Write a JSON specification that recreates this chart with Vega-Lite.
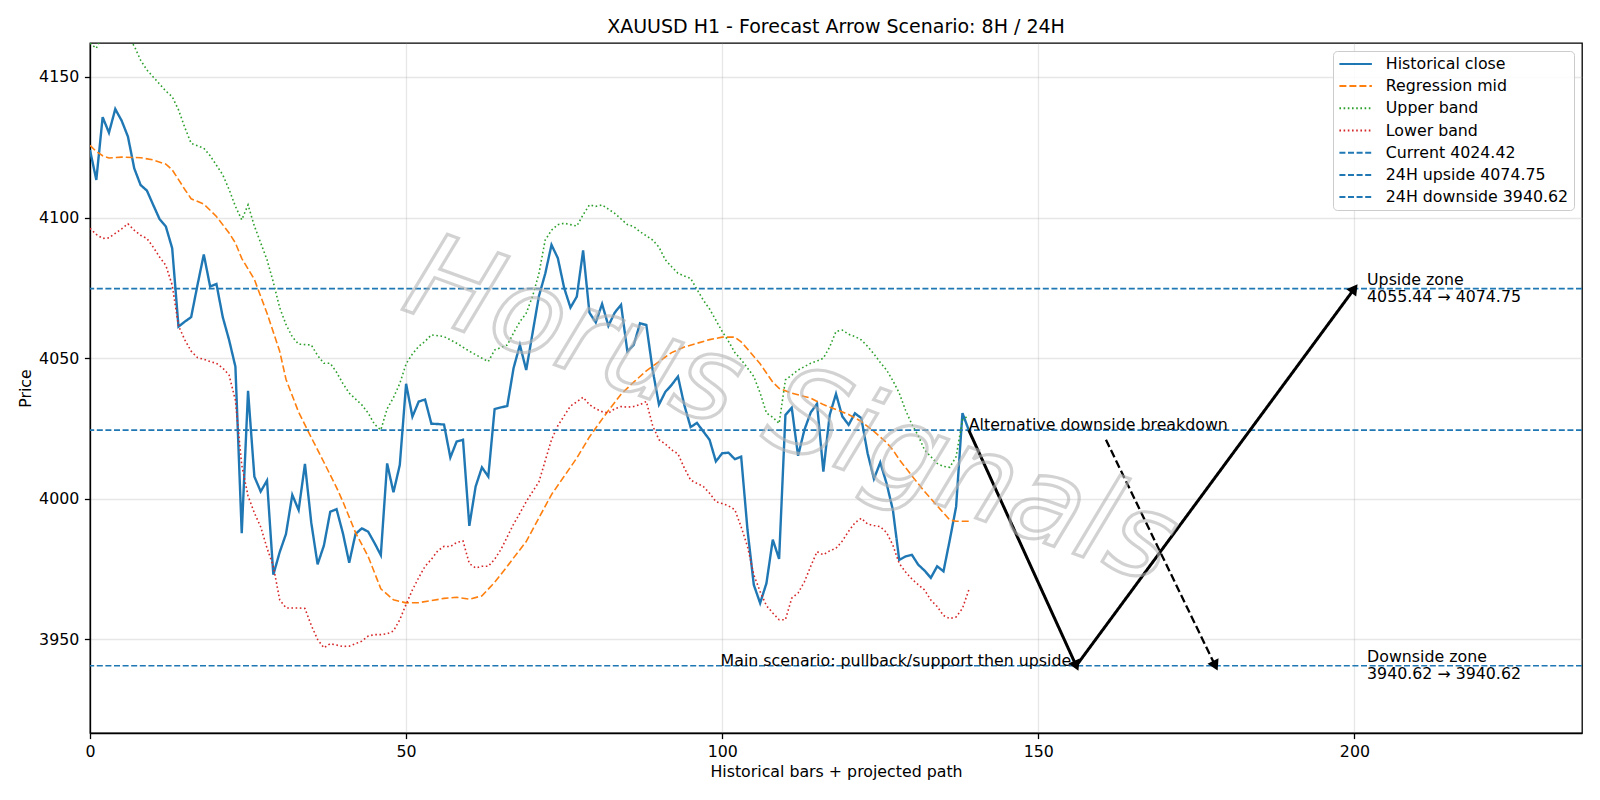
{
"$schema":"https://vega.github.io/schema/vega-lite/v6.json",
"width":1492,"height":690,
"autosize":{"type":"none"},
"padding":{"left":90,"top":43,"right":18,"bottom":67},
"background":"white",
"title":{"text":"XAUUSD H1 - Forecast Arrow Scenario: 8H / 24H","fontSize":19,"font":"DejaVu Sans","fontWeight":"normal","color":"black","anchor":"middle","offset":6},
"config":{
 "font":"DejaVu Sans",
 "view":{"stroke":"black","strokeWidth":1.3},
 "axis":{"domainColor":"black","domainWidth":1.3,"tickColor":"black","tickWidth":1.3,"tickSize":5.6,"labelFontSize":15.8,"labelColor":"black","labelFont":"DejaVu Sans","labelFlush":false,"labelOverlap":false,"titleFontSize":15.8,"titleFont":"DejaVu Sans","titleFontWeight":"normal","titleColor":"black","gridColor":"#b0b0b0","gridOpacity":0.3,"gridWidth":1.3,"labelPadding":5.6,"format":"d"},
 "axisX":{"titlePadding":5},
 "axisY":{"titlePadding":5}
},
"datasets":{
"lines":[
{"series":"Historical close","x":0,"value":4124.0},{"series":"Historical close","x":1,"value":4113.4},{"series":"Historical close","x":2,"value":4135.7},{"series":"Historical close","x":3,"value":4130.2},{"series":"Historical close","x":4,"value":4138.6},{"series":"Historical close","x":5,"value":4134.5},{"series":"Historical close","x":6,"value":4128.8},{"series":"Historical close","x":7,"value":4117.5},{"series":"Historical close","x":8,"value":4111.6},{"series":"Historical close","x":9,"value":4109.6},
{"series":"Historical close","x":10,"value":4104.5},{"series":"Historical close","x":11,"value":4099.5},{"series":"Historical close","x":12,"value":4096.8},{"series":"Historical close","x":13,"value":4089.1},{"series":"Historical close","x":14,"value":4061.2},{"series":"Historical close","x":15,"value":4063.0},{"series":"Historical close","x":16,"value":4064.6},{"series":"Historical close","x":17,"value":4076.0},{"series":"Historical close","x":18,"value":4086.9},{"series":"Historical close","x":19,"value":4075.5},
{"series":"Historical close","x":20,"value":4076.4},{"series":"Historical close","x":21,"value":4064.6},{"series":"Historical close","x":22,"value":4056.5},{"series":"Historical close","x":23,"value":4047.0},{"series":"Historical close","x":24,"value":3987.8},{"series":"Historical close","x":25,"value":4038.4},{"series":"Historical close","x":26,"value":4007.9},{"series":"Historical close","x":27,"value":4002.6},{"series":"Historical close","x":28,"value":4006.5},{"series":"Historical close","x":29,"value":3973.0},
{"series":"Historical close","x":30,"value":3981.0},{"series":"Historical close","x":31,"value":3987.5},{"series":"Historical close","x":32,"value":4001.4},{"series":"Historical close","x":33,"value":3996.0},{"series":"Historical close","x":34,"value":4012.4},{"series":"Historical close","x":35,"value":3991.5},{"series":"Historical close","x":36,"value":3976.7},{"series":"Historical close","x":37,"value":3983.4},{"series":"Historical close","x":38,"value":3995.4},{"series":"Historical close","x":39,"value":3996.3},
{"series":"Historical close","x":40,"value":3987.8},{"series":"Historical close","x":41,"value":3977.3},{"series":"Historical close","x":42,"value":3987.5},{"series":"Historical close","x":43,"value":3989.5},{"series":"Historical close","x":44,"value":3988.3},{"series":"Historical close","x":45,"value":3984.3},{"series":"Historical close","x":46,"value":3980.0},{"series":"Historical close","x":47,"value":4012.6},{"series":"Historical close","x":48,"value":4002.3},{"series":"Historical close","x":49,"value":4012.0},
{"series":"Historical close","x":50,"value":4040.9},{"series":"Historical close","x":51,"value":4029.2},{"series":"Historical close","x":52,"value":4034.6},{"series":"Historical close","x":53,"value":4035.3},{"series":"Historical close","x":54,"value":4026.7},{"series":"Historical close","x":55,"value":4026.6},{"series":"Historical close","x":56,"value":4026.4},{"series":"Historical close","x":57,"value":4014.7},{"series":"Historical close","x":58,"value":4020.4},{"series":"Historical close","x":59,"value":4021.0},
{"series":"Historical close","x":60,"value":3990.4},{"series":"Historical close","x":61,"value":4004.4},{"series":"Historical close","x":62,"value":4011.2},{"series":"Historical close","x":63,"value":4007.9},{"series":"Historical close","x":64,"value":4031.9},{"series":"Historical close","x":65,"value":4032.5},{"series":"Historical close","x":66,"value":4033.0},{"series":"Historical close","x":67,"value":4046.5},{"series":"Historical close","x":68,"value":4054.7},{"series":"Historical close","x":69,"value":4045.8},
{"series":"Historical close","x":70,"value":4058.9},{"series":"Historical close","x":71,"value":4072.0},{"series":"Historical close","x":72,"value":4080.0},{"series":"Historical close","x":73,"value":4090.3},{"series":"Historical close","x":74,"value":4085.6},{"series":"Historical close","x":75,"value":4075.0},{"series":"Historical close","x":76,"value":4068.0},{"series":"Historical close","x":77,"value":4071.9},{"series":"Historical close","x":78,"value":4088.3},{"series":"Historical close","x":79,"value":4066.2},
{"series":"Historical close","x":80,"value":4062.7},{"series":"Historical close","x":81,"value":4069.3},{"series":"Historical close","x":82,"value":4061.5},{"series":"Historical close","x":83,"value":4066.2},{"series":"Historical close","x":84,"value":4069.0},{"series":"Historical close","x":85,"value":4052.4},{"series":"Historical close","x":86,"value":4054.7},{"series":"Historical close","x":87,"value":4062.4},{"series":"Historical close","x":88,"value":4061.8},{"series":"Historical close","x":89,"value":4045.8},
{"series":"Historical close","x":90,"value":4033.5},{"series":"Historical close","x":91,"value":4038.0},{"series":"Historical close","x":92,"value":4040.5},{"series":"Historical close","x":93,"value":4043.5},{"series":"Historical close","x":94,"value":4033.4},{"series":"Historical close","x":95,"value":4025.5},{"series":"Historical close","x":96,"value":4027.0},{"series":"Historical close","x":97,"value":4024.0},{"series":"Historical close","x":98,"value":4021.0},{"series":"Historical close","x":99,"value":4013.3},
{"series":"Historical close","x":100,"value":4016.2},{"series":"Historical close","x":101,"value":4016.4},{"series":"Historical close","x":102,"value":4014.1},{"series":"Historical close","x":103,"value":4015.0},{"series":"Historical close","x":104,"value":3989.0},{"series":"Historical close","x":105,"value":3969.4},{"series":"Historical close","x":106,"value":3962.9},{"series":"Historical close","x":107,"value":3970.0},{"series":"Historical close","x":108,"value":3985.5},{"series":"Historical close","x":109,"value":3978.6},
{"series":"Historical close","x":110,"value":4029.8},{"series":"Historical close","x":111,"value":4032.4},{"series":"Historical close","x":112,"value":4015.3},{"series":"Historical close","x":113,"value":4024.5},{"series":"Historical close","x":114,"value":4030.7},{"series":"Historical close","x":115,"value":4033.8},{"series":"Historical close","x":116,"value":4009.7},{"series":"Historical close","x":117,"value":4029.8},{"series":"Historical close","x":118,"value":4037.3},{"series":"Historical close","x":119,"value":4029.3},
{"series":"Historical close","x":120,"value":4026.3},{"series":"Historical close","x":121,"value":4030.4},{"series":"Historical close","x":122,"value":4028.7},{"series":"Historical close","x":123,"value":4016.2},{"series":"Historical close","x":124,"value":4007.1},{"series":"Historical close","x":125,"value":4012.9},{"series":"Historical close","x":126,"value":4005.5},{"series":"Historical close","x":127,"value":3996.0},{"series":"Historical close","x":128,"value":3978.3},{"series":"Historical close","x":129,"value":3979.5},
{"series":"Historical close","x":130,"value":3980.1},{"series":"Historical close","x":131,"value":3976.6},{"series":"Historical close","x":132,"value":3974.5},{"series":"Historical close","x":133,"value":3971.9},{"series":"Historical close","x":134,"value":3976.0},{"series":"Historical close","x":135,"value":3974.2},{"series":"Historical close","x":136,"value":3985.4},{"series":"Historical close","x":137,"value":3997.2},{"series":"Historical close","x":138,"value":4030.5},{"series":"Historical close","x":139,"value":4024.42},
{"series":"Regression mid","x":0,"value":4125.7},{"series":"Regression mid","x":1,"value":4123.5},{"series":"Regression mid","x":2,"value":4122.0},{"series":"Regression mid","x":3,"value":4121.2},{"series":"Regression mid","x":5,"value":4121.5},{"series":"Regression mid","x":8,"value":4121.3},{"series":"Regression mid","x":10,"value":4120.5},{"series":"Regression mid","x":12,"value":4119.0},{"series":"Regression mid","x":13,"value":4117.0},{"series":"Regression mid","x":15,"value":4110.0},{"series":"Regression mid","x":16,"value":4106.7},{"series":"Regression mid","x":18,"value":4104.8},{"series":"Regression mid","x":20,"value":4100.4},{"series":"Regression mid","x":22,"value":4094.5},{"series":"Regression mid","x":23,"value":4091.0},{"series":"Regression mid","x":24,"value":4085.5},{"series":"Regression mid","x":26,"value":4078.0},{"series":"Regression mid","x":28,"value":4066.0},{"series":"Regression mid","x":30,"value":4052.5},{"series":"Regression mid","x":31,"value":4042.5},{"series":"Regression mid","x":33,"value":4030.8},{"series":"Regression mid","x":35,"value":4021.8},{"series":"Regression mid","x":37,"value":4013.0},{"series":"Regression mid","x":39,"value":4004.0},{"series":"Regression mid","x":40,"value":3999.0},{"series":"Regression mid","x":42,"value":3988.0},{"series":"Regression mid","x":44,"value":3979.5},{"series":"Regression mid","x":46,"value":3968.0},{"series":"Regression mid","x":48,"value":3964.1},{"series":"Regression mid","x":50,"value":3963.0},{"series":"Regression mid","x":52,"value":3963.1},{"series":"Regression mid","x":54,"value":3963.8},{"series":"Regression mid","x":56,"value":3964.6},{"series":"Regression mid","x":58,"value":3965.0},{"series":"Regression mid","x":60,"value":3964.3},{"series":"Regression mid","x":62,"value":3965.5},{"series":"Regression mid","x":64,"value":3970.3},{"series":"Regression mid","x":66,"value":3976.0},{"series":"Regression mid","x":67,"value":3979.0},{"series":"Regression mid","x":69,"value":3984.8},{"series":"Regression mid","x":71,"value":3993.2},{"series":"Regression mid","x":73,"value":4001.5},{"series":"Regression mid","x":75,"value":4008.0},{"series":"Regression mid","x":77,"value":4014.5},{"series":"Regression mid","x":79,"value":4022.0},{"series":"Regression mid","x":80,"value":4025.2},{"series":"Regression mid","x":82,"value":4031.4},{"series":"Regression mid","x":84,"value":4037.2},{"series":"Regression mid","x":86,"value":4041.5},{"series":"Regression mid","x":88,"value":4045.5},{"series":"Regression mid","x":90,"value":4048.8},{"series":"Regression mid","x":92,"value":4052.0},{"series":"Regression mid","x":94,"value":4054.0},{"series":"Regression mid","x":96,"value":4055.3},{"series":"Regression mid","x":98,"value":4056.6},{"series":"Regression mid","x":100,"value":4057.5},{"series":"Regression mid","x":102,"value":4057.5},{"series":"Regression mid","x":103,"value":4055.8},{"series":"Regression mid","x":104,"value":4053.3},{"series":"Regression mid","x":106,"value":4048.0},{"series":"Regression mid","x":108,"value":4041.5},{"series":"Regression mid","x":109,"value":4039.3},{"series":"Regression mid","x":111,"value":4037.6},{"series":"Regression mid","x":113,"value":4036.4},{"series":"Regression mid","x":114,"value":4035.8},{"series":"Regression mid","x":116,"value":4033.5},{"series":"Regression mid","x":118,"value":4031.8},{"series":"Regression mid","x":120,"value":4030.0},{"series":"Regression mid","x":122,"value":4027.5},{"series":"Regression mid","x":124,"value":4024.0},{"series":"Regression mid","x":126,"value":4020.0},{"series":"Regression mid","x":127,"value":4017.4},{"series":"Regression mid","x":128,"value":4014.0},{"series":"Regression mid","x":130,"value":4008.2},{"series":"Regression mid","x":132,"value":4002.6},{"series":"Regression mid","x":134,"value":3997.5},{"series":"Regression mid","x":135,"value":3995.0},{"series":"Regression mid","x":136,"value":3992.5},{"series":"Regression mid","x":137,"value":3992.0},{"series":"Regression mid","x":139,"value":3992.0},
{"series":"Upper band","x":0,"value":4162.0},{"series":"Upper band","x":1,"value":4160.2},{"series":"Upper band","x":2,"value":4165.0},{"series":"Upper band","x":3,"value":4168.0},{"series":"Upper band","x":4,"value":4170.0},{"series":"Upper band","x":5,"value":4167.0},{"series":"Upper band","x":6,"value":4164.0},{"series":"Upper band","x":7,"value":4161.0},{"series":"Upper band","x":8,"value":4156.0},{"series":"Upper band","x":9,"value":4152.5},{"series":"Upper band","x":10,"value":4150.0},{"series":"Upper band","x":11,"value":4147.5},{"series":"Upper band","x":12,"value":4145.0},{"series":"Upper band","x":13,"value":4143.0},{"series":"Upper band","x":14,"value":4138.3},{"series":"Upper band","x":15,"value":4132.0},{"series":"Upper band","x":16,"value":4126.4},{"series":"Upper band","x":18,"value":4124.7},{"series":"Upper band","x":19,"value":4122.0},{"series":"Upper band","x":21,"value":4115.2},{"series":"Upper band","x":22,"value":4110.0},{"series":"Upper band","x":23,"value":4104.0},{"series":"Upper band","x":24,"value":4099.2},{"series":"Upper band","x":25,"value":4104.5},{"series":"Upper band","x":26,"value":4097.0},{"series":"Upper band","x":28,"value":4085.0},{"series":"Upper band","x":29,"value":4077.0},{"series":"Upper band","x":30,"value":4068.0},{"series":"Upper band","x":31,"value":4062.0},{"series":"Upper band","x":32,"value":4057.6},{"series":"Upper band","x":33,"value":4055.0},{"series":"Upper band","x":35,"value":4054.7},{"series":"Upper band","x":36,"value":4051.0},{"series":"Upper band","x":37,"value":4048.2},{"series":"Upper band","x":38,"value":4048.2},{"series":"Upper band","x":39,"value":4045.0},{"series":"Upper band","x":40,"value":4041.0},{"series":"Upper band","x":41,"value":4037.6},{"series":"Upper band","x":43,"value":4033.4},{"series":"Upper band","x":44,"value":4030.5},{"series":"Upper band","x":45,"value":4026.5},{"series":"Upper band","x":46,"value":4024.5},{"series":"Upper band","x":47,"value":4032.0},{"series":"Upper band","x":48,"value":4036.0},{"series":"Upper band","x":49,"value":4041.0},{"series":"Upper band","x":50,"value":4048.0},{"series":"Upper band","x":51,"value":4051.5},{"series":"Upper band","x":52,"value":4054.2},{"series":"Upper band","x":53,"value":4056.0},{"series":"Upper band","x":54,"value":4058.3},{"series":"Upper band","x":56,"value":4057.7},{"series":"Upper band","x":58,"value":4055.3},{"series":"Upper band","x":60,"value":4052.5},{"series":"Upper band","x":62,"value":4050.0},{"series":"Upper band","x":63,"value":4048.8},{"series":"Upper band","x":64,"value":4052.9},{"series":"Upper band","x":66,"value":4054.7},{"series":"Upper band","x":67,"value":4059.0},{"series":"Upper band","x":68,"value":4063.0},{"series":"Upper band","x":69,"value":4066.0},{"series":"Upper band","x":70,"value":4072.0},{"series":"Upper band","x":71,"value":4080.0},{"series":"Upper band","x":72,"value":4092.0},{"series":"Upper band","x":73,"value":4095.5},{"series":"Upper band","x":74,"value":4097.5},{"series":"Upper band","x":75,"value":4098.0},{"series":"Upper band","x":76,"value":4097.5},{"series":"Upper band","x":77,"value":4097.0},{"series":"Upper band","x":78,"value":4101.0},{"series":"Upper band","x":79,"value":4104.5},{"series":"Upper band","x":80,"value":4104.0},{"series":"Upper band","x":81,"value":4104.5},{"series":"Upper band","x":82,"value":4103.0},{"series":"Upper band","x":83,"value":4101.5},{"series":"Upper band","x":84,"value":4099.5},{"series":"Upper band","x":85,"value":4097.5},{"series":"Upper band","x":86,"value":4096.8},{"series":"Upper band","x":87,"value":4095.0},{"series":"Upper band","x":88,"value":4093.5},{"series":"Upper band","x":89,"value":4092.0},{"series":"Upper band","x":90,"value":4089.5},{"series":"Upper band","x":91,"value":4085.0},{"series":"Upper band","x":92,"value":4082.5},{"series":"Upper band","x":93,"value":4080.2},{"series":"Upper band","x":94,"value":4079.2},{"series":"Upper band","x":95,"value":4078.4},{"series":"Upper band","x":96,"value":4074.5},{"series":"Upper band","x":97,"value":4070.7},{"series":"Upper band","x":98,"value":4067.5},{"series":"Upper band","x":99,"value":4063.5},{"series":"Upper band","x":100,"value":4059.5},{"series":"Upper band","x":101,"value":4056.0},{"series":"Upper band","x":102,"value":4052.0},{"series":"Upper band","x":103,"value":4049.5},{"series":"Upper band","x":104,"value":4046.5},{"series":"Upper band","x":105,"value":4043.5},{"series":"Upper band","x":106,"value":4037.6},{"series":"Upper band","x":107,"value":4030.5},{"series":"Upper band","x":108,"value":4029.0},{"series":"Upper band","x":109,"value":4026.8},{"series":"Upper band","x":110,"value":4042.3},{"series":"Upper band","x":111,"value":4044.0},{"series":"Upper band","x":112,"value":4045.8},{"series":"Upper band","x":113,"value":4047.0},{"series":"Upper band","x":114,"value":4048.2},{"series":"Upper band","x":115,"value":4049.0},{"series":"Upper band","x":116,"value":4050.0},{"series":"Upper band","x":117,"value":4054.0},{"series":"Upper band","x":118,"value":4059.5},{"series":"Upper band","x":119,"value":4060.0},{"series":"Upper band","x":120,"value":4058.5},{"series":"Upper band","x":121,"value":4057.7},{"series":"Upper band","x":122,"value":4056.5},{"series":"Upper band","x":123,"value":4054.2},{"series":"Upper band","x":124,"value":4051.5},{"series":"Upper band","x":125,"value":4048.5},{"series":"Upper band","x":126,"value":4045.8},{"series":"Upper band","x":127,"value":4042.0},{"series":"Upper band","x":128,"value":4037.6},{"series":"Upper band","x":129,"value":4031.5},{"series":"Upper band","x":130,"value":4026.5},{"series":"Upper band","x":131,"value":4022.5},{"series":"Upper band","x":132,"value":4017.4},{"series":"Upper band","x":133,"value":4015.0},{"series":"Upper band","x":134,"value":4012.6},{"series":"Upper band","x":135,"value":4011.5},{"series":"Upper band","x":136,"value":4011.2},{"series":"Upper band","x":137,"value":4015.0},{"series":"Upper band","x":138,"value":4028.0},{"series":"Upper band","x":139,"value":4029.8},
{"series":"Lower band","x":0,"value":4096.2},{"series":"Lower band","x":1,"value":4094.0},{"series":"Lower band","x":2,"value":4092.6},{"series":"Lower band","x":3,"value":4092.8},{"series":"Lower band","x":4,"value":4094.4},{"series":"Lower band","x":5,"value":4096.0},{"series":"Lower band","x":6,"value":4097.8},{"series":"Lower band","x":7,"value":4095.5},{"series":"Lower band","x":8,"value":4093.7},{"series":"Lower band","x":9,"value":4092.6},{"series":"Lower band","x":10,"value":4089.5},{"series":"Lower band","x":11,"value":4086.0},{"series":"Lower band","x":12,"value":4083.0},{"series":"Lower band","x":13,"value":4076.0},{"series":"Lower band","x":14,"value":4061.5},{"series":"Lower band","x":15,"value":4056.5},{"series":"Lower band","x":16,"value":4052.5},{"series":"Lower band","x":17,"value":4050.2},{"series":"Lower band","x":18,"value":4049.6},{"series":"Lower band","x":19,"value":4048.8},{"series":"Lower band","x":20,"value":4048.2},{"series":"Lower band","x":21,"value":4046.5},{"series":"Lower band","x":22,"value":4044.0},{"series":"Lower band","x":23,"value":4035.0},{"series":"Lower band","x":24,"value":4012.0},{"series":"Lower band","x":25,"value":4001.0},{"series":"Lower band","x":26,"value":3995.0},{"series":"Lower band","x":27,"value":3990.0},{"series":"Lower band","x":28,"value":3982.5},{"series":"Lower band","x":29,"value":3976.0},{"series":"Lower band","x":30,"value":3964.1},{"series":"Lower band","x":31,"value":3961.2},{"series":"Lower band","x":32,"value":3961.2},{"series":"Lower band","x":33,"value":3961.2},{"series":"Lower band","x":34,"value":3961.0},{"series":"Lower band","x":35,"value":3955.0},{"series":"Lower band","x":36,"value":3950.0},{"series":"Lower band","x":37,"value":3947.0},{"series":"Lower band","x":38,"value":3948.5},{"series":"Lower band","x":39,"value":3948.0},{"series":"Lower band","x":40,"value":3947.5},{"series":"Lower band","x":41,"value":3947.6},{"series":"Lower band","x":42,"value":3948.5},{"series":"Lower band","x":43,"value":3949.4},{"series":"Lower band","x":44,"value":3951.2},{"series":"Lower band","x":45,"value":3951.7},{"series":"Lower band","x":46,"value":3951.7},{"series":"Lower band","x":47,"value":3952.0},{"series":"Lower band","x":48,"value":3953.0},{"series":"Lower band","x":49,"value":3957.0},{"series":"Lower band","x":50,"value":3962.5},{"series":"Lower band","x":51,"value":3967.6},{"series":"Lower band","x":52,"value":3972.0},{"series":"Lower band","x":53,"value":3976.0},{"series":"Lower band","x":54,"value":3978.5},{"series":"Lower band","x":55,"value":3981.5},{"series":"Lower band","x":56,"value":3983.1},{"series":"Lower band","x":57,"value":3983.0},{"series":"Lower band","x":58,"value":3984.5},{"series":"Lower band","x":59,"value":3985.0},{"series":"Lower band","x":60,"value":3977.0},{"series":"Lower band","x":61,"value":3975.4},{"series":"Lower band","x":62,"value":3976.0},{"series":"Lower band","x":63,"value":3976.0},{"series":"Lower band","x":64,"value":3978.5},{"series":"Lower band","x":65,"value":3982.0},{"series":"Lower band","x":66,"value":3986.5},{"series":"Lower band","x":67,"value":3991.0},{"series":"Lower band","x":68,"value":3994.9},{"series":"Lower band","x":69,"value":3999.0},{"series":"Lower band","x":70,"value":4002.5},{"series":"Lower band","x":71,"value":4006.0},{"series":"Lower band","x":72,"value":4013.5},{"series":"Lower band","x":73,"value":4021.0},{"series":"Lower band","x":74,"value":4026.0},{"series":"Lower band","x":75,"value":4029.5},{"series":"Lower band","x":76,"value":4033.0},{"series":"Lower band","x":77,"value":4034.5},{"series":"Lower band","x":78,"value":4036.1},{"series":"Lower band","x":79,"value":4033.5},{"series":"Lower band","x":80,"value":4032.0},{"series":"Lower band","x":81,"value":4031.0},{"series":"Lower band","x":82,"value":4030.5},{"series":"Lower band","x":83,"value":4032.0},{"series":"Lower band","x":84,"value":4032.8},{"series":"Lower band","x":85,"value":4032.6},{"series":"Lower band","x":86,"value":4032.8},{"series":"Lower band","x":87,"value":4033.5},{"series":"Lower band","x":88,"value":4034.6},{"series":"Lower band","x":89,"value":4026.0},{"series":"Lower band","x":90,"value":4021.0},{"series":"Lower band","x":91,"value":4019.5},{"series":"Lower band","x":92,"value":4017.4},{"series":"Lower band","x":93,"value":4016.0},{"series":"Lower band","x":94,"value":4011.0},{"series":"Lower band","x":95,"value":4006.7},{"series":"Lower band","x":96,"value":4005.5},{"series":"Lower band","x":97,"value":4004.4},{"series":"Lower band","x":98,"value":4002.0},{"series":"Lower band","x":99,"value":3999.0},{"series":"Lower band","x":100,"value":3998.3},{"series":"Lower band","x":101,"value":3997.5},{"series":"Lower band","x":102,"value":3996.1},{"series":"Lower band","x":103,"value":3990.0},{"series":"Lower band","x":104,"value":3983.0},{"series":"Lower band","x":105,"value":3973.0},{"series":"Lower band","x":106,"value":3967.0},{"series":"Lower band","x":107,"value":3962.0},{"series":"Lower band","x":108,"value":3959.4},{"series":"Lower band","x":109,"value":3957.0},{"series":"Lower band","x":110,"value":3957.0},{"series":"Lower band","x":111,"value":3964.7},{"series":"Lower band","x":112,"value":3966.5},{"series":"Lower band","x":113,"value":3970.5},{"series":"Lower band","x":114,"value":3976.0},{"series":"Lower band","x":115,"value":3981.2},{"series":"Lower band","x":116,"value":3980.1},{"series":"Lower band","x":117,"value":3981.5},{"series":"Lower band","x":118,"value":3982.4},{"series":"Lower band","x":119,"value":3985.0},{"series":"Lower band","x":120,"value":3988.5},{"series":"Lower band","x":121,"value":3991.5},{"series":"Lower band","x":122,"value":3993.1},{"series":"Lower band","x":123,"value":3991.0},{"series":"Lower band","x":124,"value":3990.5},{"series":"Lower band","x":125,"value":3990.1},{"series":"Lower band","x":126,"value":3988.0},{"series":"Lower band","x":127,"value":3983.5},{"series":"Lower band","x":128,"value":3977.0},{"series":"Lower band","x":129,"value":3974.0},{"series":"Lower band","x":130,"value":3971.5},{"series":"Lower band","x":131,"value":3969.5},{"series":"Lower band","x":132,"value":3967.6},{"series":"Lower band","x":133,"value":3964.0},{"series":"Lower band","x":134,"value":3961.7},{"series":"Lower band","x":135,"value":3958.5},{"series":"Lower band","x":136,"value":3957.4},{"series":"Lower band","x":137,"value":3958.0},{"series":"Lower band","x":138,"value":3961.0},{"series":"Lower band","x":139,"value":3967.6}
],
"levels":[
{"series":"Current 4024.42","value":4024.42},
{"series":"24H upside 4074.75","value":4074.75},
{"series":"24H downside 3940.62","value":3940.62}
],
"arrows":[
{"arrow":"main1","x":139,"value":4024.42,"xe":156,"ve":3940.62},
{"arrow":"main2","x":156,"value":3940.62,"xe":200,"ve":4074.75},
{"arrow":"alt","x":160.7,"value":4021.0,"xe":178,"ve":3940.62}
],
"notes":[
{"kind":"alt","label":"Alternative downside breakdown","x":139,"value":4024.42},
{"kind":"main","label":"Main scenario: pullback/support then upside","x":156,"value":3940.62},
{"kind":"zone","label":"Upside zone\n4055.44 → 4074.75","x":202,"value":4074.75},
{"kind":"zone","label":"Downside zone\n3940.62 → 3940.62","x":202,"value":3940.62},
{"kind":"mark","label":"Horus Signals","x":110.8,"value":4030.4}
]
},
"layer":[
{
 "data":{"name":"lines"},
 "mark":{"type":"line","clip":true},
 "encoding":{
  "x":{"field":"x","type":"quantitative","scale":{"domain":[0,236],"nice":false,"zero":false},"axis":{"values":[0,50,100,150,200],"title":"Historical bars + projected path","grid":true}},
  "y":{"field":"value","type":"quantitative","scale":{"domain":[3916.73,4162.08],"nice":false,"zero":false},"axis":{"values":[3950,4000,4050,4100,4150],"title":"Price","grid":true}},
  "color":{"field":"series","type":"nominal","scale":{"domain":["Historical close","Regression mid","Upper band","Lower band","Current 4024.42","24H upside 4074.75","24H downside 3940.62"],"range":["#1f77b4","#ff7f0e","#2ca02c","#d62728","#1f77b4","#1f77b4","#1f77b4"]},
   "legend":{"title":null,"orient":"top-right","offset":8,"symbolType":"M-1,0L4,0","symbolSize":169,"symbolStrokeWidth":2,"labelFontSize":15.8,"labelFont":"DejaVu Sans","labelColor":"black","labelOffset":32,"labelLimit":400,"rowPadding":5.2,"padding":5,"fillColor":"rgba(255,255,255,0.85)","strokeColor":"#cccccc","cornerRadius":4}},
  "strokeDash":{"field":"series","type":"nominal","scale":{"domain":["Historical close","Regression mid","Upper band","Lower band","Current 4024.42","24H upside 4074.75","24H downside 3940.62"],"range":[[1,0],[7,3],[1.6,2.6],[1.6,2.6],[6,2.6],[6,2.6],[6,2.6]]},
   "legend":{"title":null,"orient":"top-right","offset":8,"symbolType":"M-1,0L4,0","symbolSize":169,"symbolStrokeWidth":2,"labelFontSize":15.8,"labelFont":"DejaVu Sans","labelColor":"black","labelOffset":32,"labelLimit":400,"rowPadding":5.2,"padding":5,"fillColor":"rgba(255,255,255,0.85)","strokeColor":"#cccccc","cornerRadius":4}},
  "strokeWidth":{"condition":{"test":"datum.series === 'Historical close'","value":2.4},"value":1.6}
 }
},
{
 "data":{"name":"levels"},
 "mark":{"type":"rule","strokeWidth":1.6},
 "encoding":{
  "y":{"field":"value","type":"quantitative","scale":{"domain":[3916.73,4162.08],"nice":false,"zero":false},"axis":{"values":[3950,4000,4050,4100,4150],"title":"Price","grid":true}},
  "color":{"field":"series","type":"nominal","scale":{"domain":["Historical close","Regression mid","Upper band","Lower band","Current 4024.42","24H upside 4074.75","24H downside 3940.62"],"range":["#1f77b4","#ff7f0e","#2ca02c","#d62728","#1f77b4","#1f77b4","#1f77b4"]},
   "legend":{"title":null,"orient":"top-right","offset":8,"symbolType":"M-1,0L4,0","symbolSize":169,"symbolStrokeWidth":2,"labelFontSize":15.8,"labelFont":"DejaVu Sans","labelColor":"black","labelOffset":32,"labelLimit":400,"rowPadding":5.2,"padding":5,"fillColor":"rgba(255,255,255,0.85)","strokeColor":"#cccccc","cornerRadius":4}},
  "strokeDash":{"field":"series","type":"nominal","scale":{"domain":["Historical close","Regression mid","Upper band","Lower band","Current 4024.42","24H upside 4074.75","24H downside 3940.62"],"range":[[1,0],[7,3],[1.6,2.6],[1.6,2.6],[6,2.6],[6,2.6],[6,2.6]]},
   "legend":{"title":null,"orient":"top-right","offset":8,"symbolType":"M-1,0L4,0","symbolSize":169,"symbolStrokeWidth":2,"labelFontSize":15.8,"labelFont":"DejaVu Sans","labelColor":"black","labelOffset":32,"labelLimit":400,"rowPadding":5.2,"padding":5,"fillColor":"rgba(255,255,255,0.85)","strokeColor":"#cccccc","cornerRadius":4}}
 }
},
{
 "data":{"name":"arrows"},
 "mark":{"type":"rule","color":"black"},
 "encoding":{
  "x":{"field":"x","type":"quantitative","scale":{"domain":[0,236],"nice":false,"zero":false},"axis":{"values":[0,50,100,150,200],"title":"Historical bars + projected path","grid":true}},
  "y":{"field":"value","type":"quantitative","scale":{"domain":[3916.73,4162.08],"nice":false,"zero":false},"axis":{"values":[3950,4000,4050,4100,4150],"title":"Price","grid":true}},
  "x2":{"field":"xe"},
  "y2":{"field":"ve"},
  "strokeWidth":{"condition":{"test":"datum.arrow === 'alt'","value":2.3},"value":3},
  "strokeDash":{"condition":{"test":"datum.arrow === 'alt'","value":[8,3.5]},"value":[1,0]}
 }
},
{
 "data":{"name":"arrows"},
 "mark":{"type":"point","shape":"triangle-up","filled":true,"color":"black","opacity":1,"size":150},
 "encoding":{
  "x":{"field":"xe","type":"quantitative","scale":{"domain":[0,236],"nice":false,"zero":false},"axis":{"values":[0,50,100,150,200],"title":"Historical bars + projected path","grid":true}},
  "y":{"field":"ve","type":"quantitative","scale":{"domain":[3916.73,4162.08],"nice":false,"zero":false},"axis":{"values":[3950,4000,4050,4100,4150],"title":"Price","grid":true}},
  "angle":{"condition":[{"test":"datum.arrow === 'main1'","value":155.5},{"test":"datum.arrow === 'main2'","value":36.4}],"value":154.2}
 }
},
{
 "data":{"name":"notes"},
 "transform":[{"filter":"datum.kind === 'alt'"}],
 "mark":{"type":"text","align":"left","baseline":"alphabetic","fontSize":15.8,"font":"DejaVu Sans","color":"black"},
 "encoding":{
  "x":{"field":"x","type":"quantitative","scale":{"domain":[0,236],"nice":false,"zero":false},"axis":{"values":[0,50,100,150,200],"title":"Historical bars + projected path","grid":true}},
  "y":{"field":"value","type":"quantitative","scale":{"domain":[3916.73,4162.08],"nice":false,"zero":false},"axis":{"values":[3950,4000,4050,4100,4150],"title":"Price","grid":true}},
  "text":{"field":"label"}
 }
},
{
 "data":{"name":"notes"},
 "transform":[{"filter":"datum.kind === 'main'"}],
 "mark":{"type":"text","align":"right","baseline":"alphabetic","dx":-5,"fontSize":15.8,"font":"DejaVu Sans","color":"black"},
 "encoding":{
  "x":{"field":"x","type":"quantitative","scale":{"domain":[0,236],"nice":false,"zero":false},"axis":{"values":[0,50,100,150,200],"title":"Historical bars + projected path","grid":true}},
  "y":{"field":"value","type":"quantitative","scale":{"domain":[3916.73,4162.08],"nice":false,"zero":false},"axis":{"values":[3950,4000,4050,4100,4150],"title":"Price","grid":true}},
  "text":{"field":"label"}
 }
},
{
 "data":{"name":"notes"},
 "transform":[{"filter":"datum.kind === 'zone'"}],
 "mark":{"type":"text","align":"left","baseline":"middle","lineBreak":"\n","lineHeight":17,"dy":-8.5,"fontSize":15.8,"font":"DejaVu Sans","color":"black"},
 "encoding":{
  "x":{"field":"x","type":"quantitative","scale":{"domain":[0,236],"nice":false,"zero":false},"axis":{"values":[0,50,100,150,200],"title":"Historical bars + projected path","grid":true}},
  "y":{"field":"value","type":"quantitative","scale":{"domain":[3916.73,4162.08],"nice":false,"zero":false},"axis":{"values":[3950,4000,4050,4100,4150],"title":"Price","grid":true}},
  "text":{"field":"label"}
 }
},
{
 "data":{"name":"notes"},
 "transform":[{"filter":"datum.kind === 'mark'"}],
 "mark":{"type":"text","align":"center","baseline":"middle","angle":20,"fontSize":118,"font":"DejaVu Sans","fontStyle":"italic","fillOpacity":0,"stroke":"#b4b4b4","strokeWidth":3.2,"strokeOpacity":0.6},
 "encoding":{
  "x":{"field":"x","type":"quantitative","scale":{"domain":[0,236],"nice":false,"zero":false},"axis":{"values":[0,50,100,150,200],"title":"Historical bars + projected path","grid":true}},
  "y":{"field":"value","type":"quantitative","scale":{"domain":[3916.73,4162.08],"nice":false,"zero":false},"axis":{"values":[3950,4000,4050,4100,4150],"title":"Price","grid":true}},
  "text":{"field":"label"}
 }
}
]
}
